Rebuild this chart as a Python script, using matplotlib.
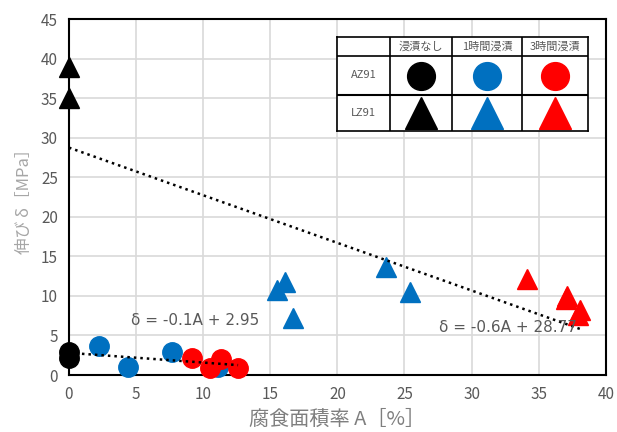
import numpy as np
import matplotlib
matplotlib.use('Agg')
from matplotlib import pyplot as plt

plt.rcParams['font.family'] = ['Noto Sans CJK JP', 'DejaVu Sans']

# AZ91 (circles): corrosion area ratio A [%], elongation [MPa]
az_none_x = [0.0, 0.0]
az_none_y = [2.9, 2.1]
az_1h_x = [2.2, 4.4, 7.7, 11.1]
az_1h_y = [3.7, 1.05, 2.9, 1.0]
az_3h_x = [9.2, 10.5, 11.3, 12.6]
az_3h_y = [2.1, 0.9, 2.0, 0.9]

# LZ91 (triangles)
lz_none_x = [0.0, 0.0]
lz_none_y = [39.0, 35.0]
lz_1h_x = [15.5, 16.1, 16.7, 23.6, 25.4]
lz_1h_y = [10.7, 11.8, 7.2, 13.7, 10.5]
lz_3h_x = [34.1, 37.0, 37.1, 38.1, 37.9]
lz_3h_y = [12.2, 9.6, 10.0, 8.2, 7.6]

col_names = ['浸漬なし', '1時間浸漬', '3時間浸漬']
row_names = ['AZ91', 'LZ91']
colors = ['black', '#0070C0', '#FF0000']
gray = '#595959'

fig = plt.figure(figsize=(6.17, 4.32), dpi=100)
ax = fig.add_axes([0.1118, 0.1319, 0.870, 0.824])

for xs, ys, c in [(az_none_x, az_none_y, colors[0]), (az_1h_x, az_1h_y, colors[1]), (az_3h_x, az_3h_y, colors[2])]:
    ax.plot(xs, ys, 'o', color=c, markersize=14, zorder=3, clip_on=False)
for xs, ys, c in [(lz_none_x, lz_none_y, colors[0]), (lz_1h_x, lz_1h_y, colors[1]), (lz_3h_x, lz_3h_y, colors[2])]:
    ax.plot(xs, ys, '^', color=c, markersize=14, zorder=3, clip_on=False)

# linear trendlines
az_x = np.array(az_none_x + az_1h_x + az_3h_x)
az_y = np.array(az_none_y + az_1h_y + az_3h_y)
lz_x = np.array(lz_none_x + lz_1h_x + lz_3h_x)
lz_y = np.array(lz_none_y + lz_1h_y + lz_3h_y)
for xs, ys in [(az_x, az_y), (lz_x, lz_y)]:
    k, b = np.polyfit(xs, ys, 1)
    xx = np.array([xs.min(), xs.max()])
    ax.plot(xx, k * xx + b, linestyle=(0, (1, 1.6)), color='black', linewidth=1.8, zorder=4)

ax.text(4.6, 6.9, 'δ = -0.1A + 2.95', fontsize=11, color=gray, ha='left', va='center', family='DejaVu Sans')
ax.text(27.6, 6.0, 'δ = -0.6A + 28.77', fontsize=11, color=gray, ha='left', va='center', family='DejaVu Sans', zorder=5)

ax.set_xlim(0, 40)
ax.set_ylim(0, 45)
ax.set_xticks(range(0, 41, 5))
ax.set_yticks(range(0, 46, 5))
ax.grid(True, color='#D9D9D9', linewidth=1.2)
ax.set_axisbelow(True)
for s in ax.spines.values():
    s.set_color('black')
    s.set_linewidth(1.5)
ax.tick_params(length=0, labelsize=11, colors=gray, pad=8)
ax.set_xlabel('腐食面積率 A［%］', fontsize=14.5, color='#7F7F7F', labelpad=4)
ax.set_ylabel('伸び δ［MPa］', fontsize=12, color='#A6A6A6', labelpad=6)

# legend table
tab = fig.add_axes([337 / 617, 1 - 131 / 432, 251 / 617, 94 / 432])
col_edges = [0, 53, 115, 185, 251]
row_edges = [0, 36, 75, 94]
tab.set_xlim(0, 251)
tab.set_ylim(0, 94)
tab.set_facecolor('white')
tab.set_xticks([])
tab.set_yticks([])
for s in tab.spines.values():
    s.set_color('black')
    s.set_linewidth(1.2)
for x in col_edges[1:-1]:
    tab.axvline(x, color='black', linewidth=1.2)
for y in row_edges[1:-1]:
    tab.axhline(y, color='black', linewidth=1.5 if y == 36 else 1.2)
mids_x = [(col_edges[i] + col_edges[i + 1]) / 2 for i in range(4)]
tab.text(mids_x[0], 55.5, row_names[0], ha='center', va='center', fontsize=8, color=gray)
tab.text(mids_x[0], 18, row_names[1], ha='center', va='center', fontsize=8, color=gray)
for i, name in enumerate(col_names):
    tab.text(mids_x[i + 1], 84.5, name, ha='center', va='center', fontsize=8, color=gray)
    tab.plot(mids_x[i + 1], 55.5, 'o', color=colors[i], markersize=20)
    tab.plot(mids_x[i + 1], 18, '^', color=colors[i], markersize=23)

fig.savefig('out.png', dpi=100)
